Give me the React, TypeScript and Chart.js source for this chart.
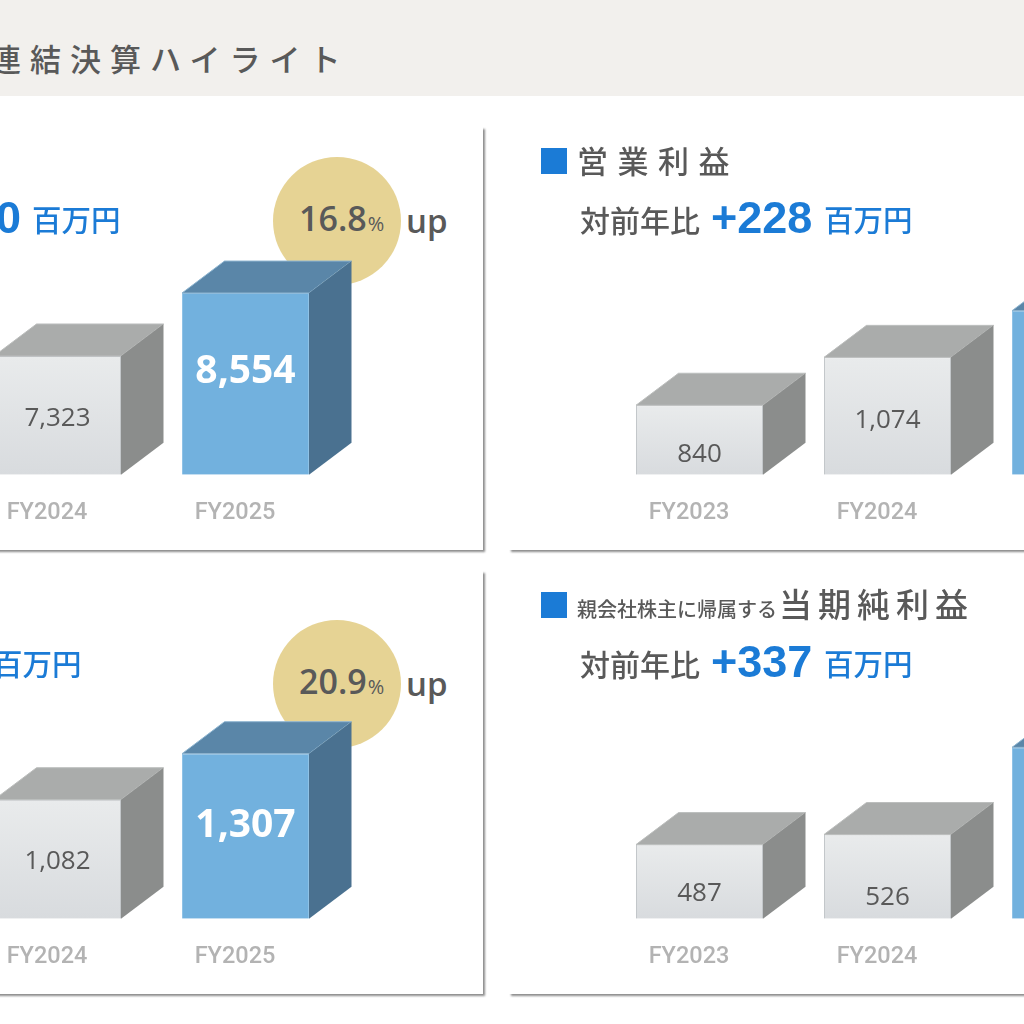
import React, { useEffect, useRef } from 'react';
import { Chart, registerables } from 'chart.js';

Chart.register(...registerables);

const categories = ['FY2023', 'FY2024', 'FY2025'];
// FY2023 of the left panels is outside the picture, so it stays empty
const salesValues = [null, 7323, 8554];
const operatingValues = [840, 1074, 1302];
const ordinaryValues = [null, 1082, 1307];
const netValues = [487, 526, 863];

const salesAxis = [5000, 11800];
const operatingAxis = [500, 2200];
const ordinaryAxis = [500, 2200];
const netAxis = [200, 1545];

const BLUE = '#1b7bd6';
const TEXT = '#595959';
const CJK = '"Noto Sans CJK JP", "Noto Sans", sans-serif';
const LATIN = '"Open Sans", "Noto Sans", sans-serif';
const DEPTH_X = 42.5;
const DEPTH_Y = 32;

const box3d = {
  id: 'box3d',
  afterDatasetsDraw(chart: any, _args: any, opts: any) {
    const { ctx } = chart;
    const meta = chart.getDatasetMeta(0);
    meta.data.forEach((bar: any, i: number) => {
      const value = chart.data.datasets[0].data[i];
      if (value === null) return;
      const hot = i === 2;
      const half = bar.width / 2;
      const left = bar.x - half;
      const right = bar.x + half;
      const top = bar.y;
      const base = chart.chartArea.bottom;

      ctx.save();
      ctx.lineWidth = 1;
      ctx.fillStyle = hot ? '#5a86a8' : '#aaacab';
      ctx.strokeStyle = hot ? '#8fb6d1' : '#bcbebd';
      ctx.beginPath();
      ctx.moveTo(left, top);
      ctx.lineTo(left + DEPTH_X, top - DEPTH_Y);
      ctx.lineTo(right + DEPTH_X, top - DEPTH_Y);
      ctx.lineTo(right, top);
      ctx.closePath();
      ctx.fill();
      ctx.stroke();

      ctx.fillStyle = hot ? '#4a7190' : '#8b8d8c';
      ctx.beginPath();
      ctx.moveTo(right, top);
      ctx.lineTo(right + DEPTH_X, top - DEPTH_Y);
      ctx.lineTo(right + DEPTH_X, base - DEPTH_Y);
      ctx.lineTo(right, base);
      ctx.closePath();
      ctx.fill();

      ctx.fillStyle = hot ? '#ffffff' : TEXT;
      ctx.font = hot ? `700 39px ${LATIN}` : `400 26px ${LATIN}`;
      ctx.textAlign = 'center';
      ctx.textBaseline = 'middle';
      const text = value.toLocaleString('en-US');
      ctx.fillText(text, bar.x, base - opts.lifts[i]);
      ctx.restore();
    });
  },
};

const frontFace = (c: any) => {
  const { chart, dataIndex, parsed } = c;
  if (dataIndex === 2) return '#72b1de';
  if (!parsed || !chart.chartArea || parsed.y == null) return '#e2e5e7';
  const top = chart.scales.y.getPixelForValue(parsed.y);
  const g = chart.ctx.createLinearGradient(0, top, 0, chart.chartArea.bottom);
  g.addColorStop(0, '#e9ebec');
  g.addColorStop(1, '#d8dbde');
  return g;
};

function BoxChart({ values, axis, lifts, left, top }: any) {
  const canvasRef = useRef<HTMLCanvasElement | null>(null);

  useEffect(() => {
    const ctx = canvasRef.current?.getContext('2d');
    if (!ctx) return;
    const chart = new Chart(ctx, {
      type: 'bar',
      data: {
        labels: categories,
        datasets: [
          {
            data: values,
            base: axis[0],
            backgroundColor: frontFace,
            borderColor: (c: any) => (c.dataIndex === 2 ? '#8fc2e6' : '#c3c7ca'),
            borderWidth: 1,
            barPercentage: 127 / 188,
            categoryPercentage: 1,
          },
        ],
      },
      options: {
        responsive: false,
        animation: false,
        events: [],
        layout: { autoPadding: false, padding: { left: 94.5, right: 144.5, top: 0, bottom: 0 } },
        scales: {
          x: {
            grid: { display: false, drawTicks: false },
            border: { display: false },
            ticks: {
              color: '#b3b3b3',
              font: { family: 'Roboto', size: 23.5, weight: 500 },
              padding: 24,
              labelOffset: -10.5,
              maxRotation: 0,
              autoSkip: false,
            },
          },
          y: { display: false, min: axis[0], max: axis[1] },
        },
        plugins: { legend: { display: false }, tooltip: { enabled: false }, box3d: { lifts } },
      } as any,
      plugins: [box3d],
    });
    return () => chart.destroy();
  }, [values, axis, lifts]);

  return (
    <canvas
      ref={canvasRef}
      width={803}
      height={424}
      style={{ position: 'absolute', left, top, width: 803, height: 424, display: 'block' }}
    />
  );
}

function Label({ x, y, right, size, color = TEXT, weight = 500, font = CJK, spacing = 0, children }: any) {
  return (
    <div
      style={{
        position: 'absolute',
        left: x,
        right,
        top: y,
        transform: 'translateY(-50%)',
        fontFamily: font,
        fontSize: size,
        fontWeight: weight,
        color,
        letterSpacing: spacing,
        lineHeight: 1,
        whiteSpace: 'nowrap',
      }}
    >
      {children}
    </div>
  );
}

function Panel({ left, top }: any) {
  return (
    <div
      style={{
        position: 'absolute',
        left,
        top,
        width: 802,
        height: 423,
        background: '#fff',
        boxShadow: '2px 2px 2px rgba(0,0,0,0.45)',
      }}
    />
  );
}

function Badge({ y, value }: any) {
  return (
    <>
      <div
        style={{
          position: 'absolute',
          left: 273,
          top: y - 64,
          width: 128,
          height: 128,
          borderRadius: '50%',
          background: '#e6d394',
        }}
      />
      <Label x={299} y={y - 3} size={34} weight={600} font={LATIN}>
        {value}
        <span style={{ fontSize: 20, fontWeight: 500, marginLeft: 1 }}>%</span>
      </Label>
      <Label x={406} y={y - 1} size={33} weight={600} font={LATIN}>
        up
      </Label>
    </>
  );
}

function Square({ y }: any) {
  return <div style={{ position: 'absolute', left: 541, top: y, width: 26, height: 26, background: BLUE }} />;
}

export default function App() {
  return (
    <div style={{ position: 'fixed', left: 0, top: 0, width: 1024, height: 1024, overflow: 'hidden', background: '#fff' }}>
      <div style={{ position: 'absolute', left: 0, top: 0, width: 1024, height: 96, background: '#f2f0ed' }} />
      <Label x={-10} y={57} size={31} spacing={9}>
        連結決算ハイライト
      </Label>

      <Panel left={-319} top={127} />
      <Panel left={509} top={127} />
      <Panel left={-319} top={571} />
      <Panel left={509} top={571} />

      <Badge y={221} value="16.8" />
      <Badge y={684} value="20.9" />

      <BoxChart values={salesValues} axis={salesAxis} lifts={[0, 56, 103]} left={-319} top={127} />
      <BoxChart values={operatingValues} axis={operatingAxis} lifts={[20, 54, 80]} left={511} top={127} />
      <BoxChart values={ordinaryValues} axis={ordinaryAxis} lifts={[0, 57, 93]} left={-319} top={571} />
      <BoxChart values={netValues} axis={netAxis} lifts={[25, 21, 80]} left={511} top={571} />

      <Label right={1003} y={217} size={45} weight={700} font="Liberation Sans" color={BLUE}>
        +1,230
      </Label>
      <Label x={32} y={219} size={29.5} color={BLUE}>
        百万円
      </Label>
      <Label x={-7} y={663} size={29.5} color={BLUE}>
        百万円
      </Label>

      <Square y={148} />
      <Label x={577} y={159} size={31} spacing={9.5}>
        営業利益
      </Label>
      <Label x={580} y={219} size={30}>
        対前年比
      </Label>
      <Label x={711} y={217} size={45} weight={700} font="Liberation Sans" color={BLUE}>
        +228
      </Label>
      <Label x={824} y={219} size={29.5} color={BLUE}>
        百万円
      </Label>

      <Square y={592} />
      <Label x={577} y={609} size={20}>
        親会社株主に帰属する
      </Label>
      <Label x={779} y={603} size={33} spacing={6}>
        当期純利益
      </Label>
      <Label x={580} y={663} size={30}>
        対前年比
      </Label>
      <Label x={711} y={661} size={45} weight={700} font="Liberation Sans" color={BLUE}>
        +337
      </Label>
      <Label x={824} y={663} size={29.5} color={BLUE}>
        百万円
      </Label>
    </div>
  );
}
